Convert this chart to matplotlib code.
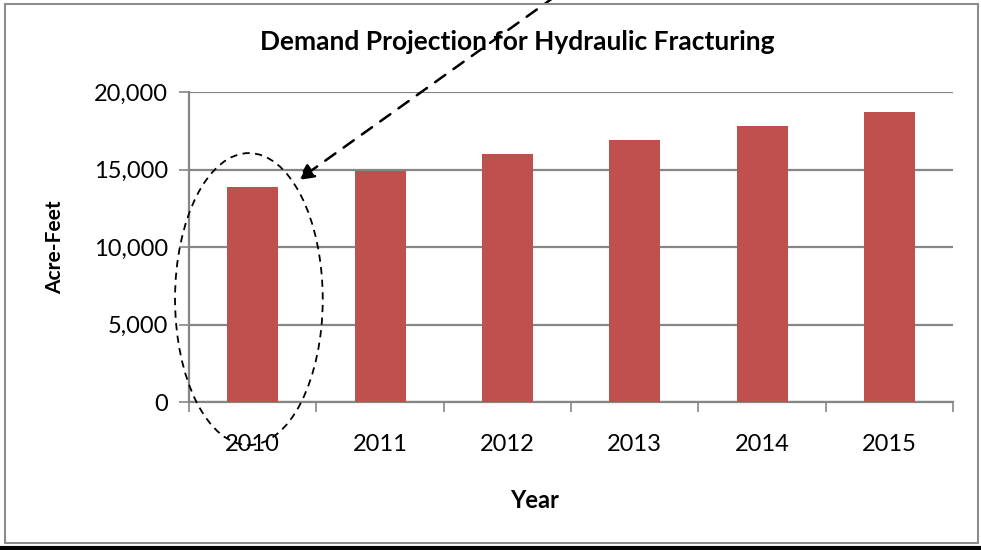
import numpy as np
import matplotlib
matplotlib.use('Agg')
import matplotlib.pyplot as plt
from matplotlib.patches import Ellipse, Rectangle
from matplotlib.lines import Line2D

# data
years = ['2010', '2011', '2012', '2013', '2014', '2015']
demand = [13900, 14940, 16010, 16920, 17820, 18710]
y_ticks = [0, 5000, 10000, 15000, 20000]

bar_color = '#C0504D'
grid_color = '#868686'

plt.rcParams['font.family'] = ['Lato', 'DejaVu Sans']

fig = plt.figure(figsize=(9.81, 5.5), dpi=100)
ax = fig.add_axes([0.1927, 0.269, 0.7788, 0.563])

x = np.arange(len(years))
ax.bar(x, demand, width=0.4, color=bar_color, zorder=3)

ax.set_xlim(-0.5, len(years) - 0.5)
ax.set_ylim(0, 20000)
ax.set_yticks(y_ticks)
ax.set_yticklabels([f'{v:,}' for v in y_ticks], fontsize=17)
ax.set_xticks(x)
ax.set_xticklabels(years, fontsize=17)
ax.set_xticks(np.arange(len(years) + 1) - 0.5, minor=True)
ax.tick_params(axis='x', which='major', length=0, pad=23)
ax.tick_params(axis='x', which='minor', length=7, width=1.2, color=grid_color)
ax.tick_params(axis='y', length=7, width=1.2, color=grid_color, pad=8)

ax.yaxis.grid(True, color=grid_color, linewidth=1.6, zorder=0)
for s in ['top', 'right']:
    ax.spines[s].set_visible(False)
for s in ['left', 'bottom']:
    ax.spines[s].set_color(grid_color)
    ax.spines[s].set_linewidth(1.6)

# titles
fig.text(0.527, 0.923, 'Demand Projection for Hydraulic Fracturing',
         ha='center', va='center', fontsize=19, fontweight='bold')
fig.text(0.545, 0.09, 'Year', ha='center', va='center', fontsize=17, fontweight='bold')
fig.text(0.056, 0.55, 'Acre-Feet', ha='center', va='center', rotation=90,
         fontsize=15, fontweight='bold')

# dashed ellipse around 2010 bar and dashed arrow
ell = Ellipse((-0.03, 6650), width=1.16, height=18860, fill=False,
              linestyle=(0, (4, 3)), linewidth=1.3, edgecolor='black',
              clip_on=False, zorder=5)
ax.add_patch(ell)
ax.annotate('', xy=(0.356, 14335), xytext=(2.375, 26200),
            xycoords='data', textcoords='data', annotation_clip=False,
            arrowprops=dict(arrowstyle='-|>', linestyle=(0, (5, 4)),
                            linewidth=1.8, color='black', mutation_scale=24,
                            shrinkA=0, shrinkB=0), zorder=6)

# chart frame
fig.patches.append(Rectangle((5 / 981, 1 - 543 / 550), 973 / 981, 539 / 550,
                             transform=fig.transFigure, fill=False,
                             edgecolor='#8c8c8c', linewidth=1.5))
fig.lines.append(Line2D([0, 1], [1 - 548 / 550] * 2, transform=fig.transFigure,
                        color='black', linewidth=3))

fig.savefig('out.png', dpi=100)
